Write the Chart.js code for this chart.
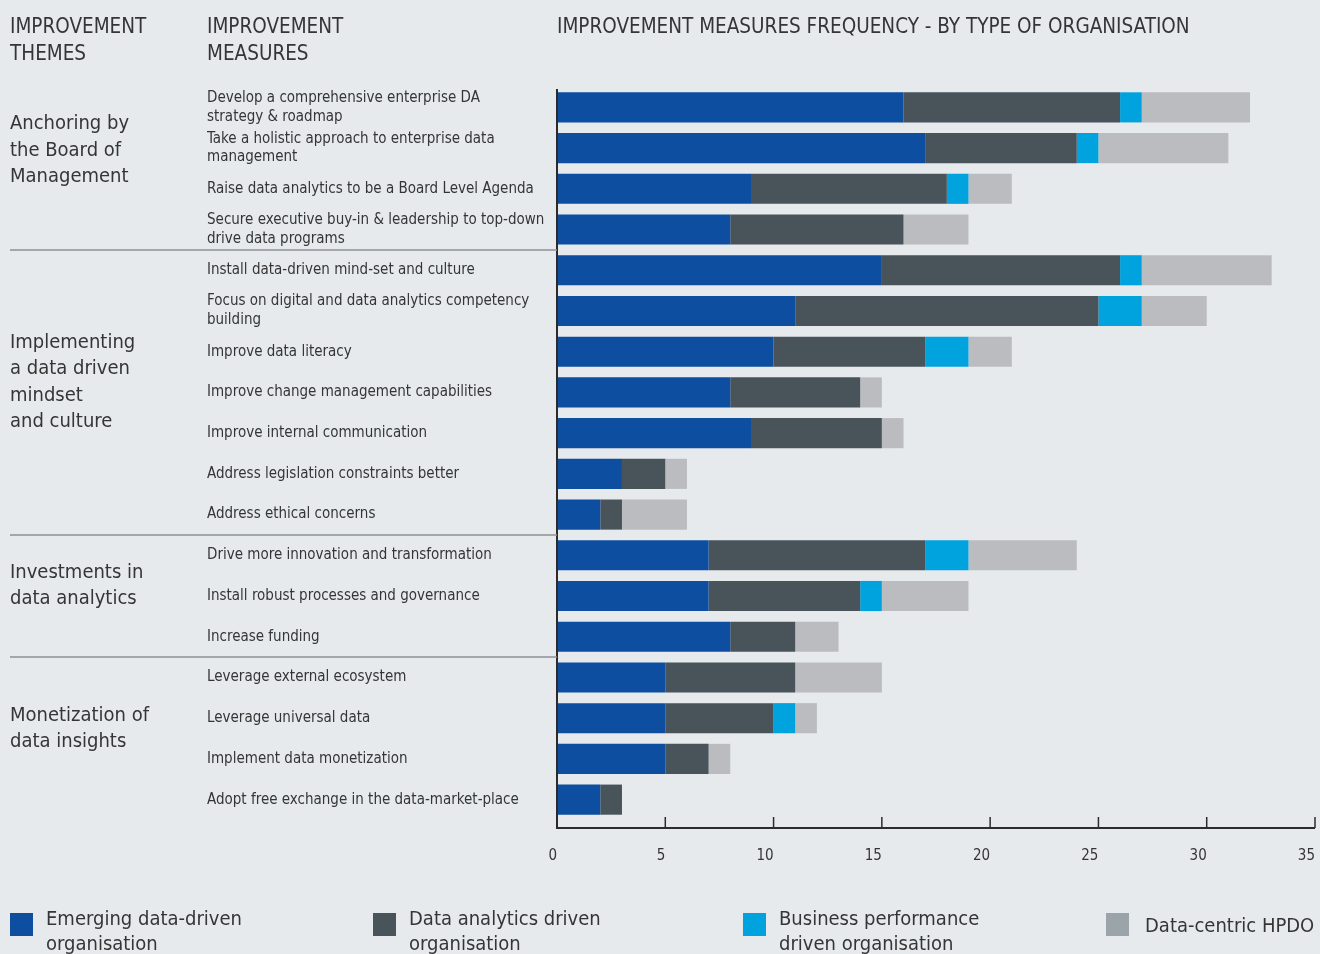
<!DOCTYPE html>
<html>
<head>
<meta charset="utf-8">
<script src="https://cdn.jsdelivr.net/npm/chart.js@4/dist/chart.umd.min.js"></script>
<style>
  html, body { margin: 0; padding: 0; background: #e6eaed; overflow: hidden; }
  #wrap { position: relative; width: 1320px; height: 954px; }
</style>
</head>
<body>
<div id="wrap"><canvas id="measuresChart"></canvas></div>
<script>
// Improvement measures, one bar per measure (multi-line labels as arrays)
const measures = [
    ['Develop a comprehensive enterprise DA', 'strategy & roadmap'],
    ['Take a holistic approach to enterprise data', 'management'],
    'Raise data analytics to be a Board Level Agenda',
    ['Secure executive buy-in & leadership to top-down', 'drive data programs'],
    'Install data-driven mind-set and culture',
    ['Focus on digital and data analytics competency', 'building'],
    'Improve data literacy',
    'Improve change management capabilities',
    'Improve internal communication',
    'Address legislation constraints better',
    'Address ethical concerns',
    'Drive more innovation and transformation',
    'Install robust processes and governance',
    'Increase funding',
    'Leverage external ecosystem',
    'Leverage universal data',
    'Implement data monetization',
    'Adopt free exchange in the data-market-place'
];

// Counts per type of organisation
const emerging    = [16, 17, 9, 8, 15, 11, 10, 8, 9, 3, 2, 7, 7, 8, 5, 5, 5, 2];
const analytics   = [10, 7, 9, 8, 11, 14, 7, 6, 6, 2, 1, 10, 7, 3, 6, 5, 2, 1];
const performance = [1, 1, 1, 0, 1, 2, 2, 0, 0, 0, 0, 2, 1, 0, 0, 1, 0, 0];
const hpdo        = [5, 6, 2, 3, 6, 3, 2, 1, 1, 1, 3, 5, 4, 2, 4, 1, 1, 0];

const seriesNames = [
    ['Emerging data-driven', 'organisation'],
    ['Data analytics driven', 'organisation'],
    ['Business performance', 'driven organisation'],
    ['Data-centric HPDO']
];

// Themes grouping the measures (first / last row index)
const themeLabels = [
    ['Anchoring by', 'the Board of', 'Management'],
    ['Implementing', 'a data driven', 'mindset', 'and culture'],
    ['Investments in', 'data analytics'],
    ['Monetization of', 'data insights']
];
const themeRows = [[0, 3], [4, 10], [11, 13], [14, 17]];

const xTicks = [0, 5, 10, 15, 20, 25, 30, 35];

const FONT = "'DejaVu Sans Condensed', 'Roboto', sans-serif";
const TEXT = '#353535';
const colors = ['#0d4ea1', '#49535a', '#00a3dd', '#bbbcc0'];
const legendColors = ['#0d4ea1', '#49535a', '#00a3dd', '#9ba4a9'];

Chart.defaults.font.family = FONT;
Chart.defaults.color = TEXT;

// Headers, axis lines, theme column, separators and the legend
const decor = {
    id: 'decor',
    afterDraw(chart) {
        const ctx = chart.ctx;
        const area = chart.chartArea;
        const xs = chart.scales.x;
        const ys = chart.scales.y;
        ctx.save();
        ctx.fillStyle = TEXT;
        ctx.textBaseline = 'alphabetic';
        ctx.textAlign = 'left';

        // column headers + title
        ctx.font = '20.5px ' + FONT;
        ctx.fillText('IMPROVEMENT', 10, 33);
        ctx.fillText('THEMES', 10, 60);
        ctx.fillText('IMPROVEMENT', 207, 33);
        ctx.fillText('MEASURES', 207, 60);
        ctx.fillText('IMPROVEMENT MEASURES FREQUENCY - BY TYPE OF ORGANISATION', 557, 33);

        // axis lines with inward ticks
        const axisY = area.bottom + 8;
        ctx.strokeStyle = '#2b2b2b';
        ctx.lineWidth = 2;
        ctx.beginPath();
        ctx.moveTo(area.left, area.top + 2);
        ctx.lineTo(area.left, axisY);
        ctx.lineTo(area.right, axisY);
        ctx.stroke();
        ctx.lineWidth = 1.5;
        xTicks.forEach(v => {
            const px = xs.getPixelForValue(v);
            ctx.beginPath();
            ctx.moveTo(px, axisY);
            ctx.lineTo(px, axisY - 11);
            ctx.stroke();
        });

        // group separators and theme labels
        ctx.strokeStyle = '#8d9194';
        ctx.lineWidth = 1.5;
        themeRows.forEach((rows, i) => {
            const top = ys.getPixelForValue(rows[0]);
            const bottom = ys.getPixelForValue(rows[1]);
            if (i < themeRows.length - 1) {
                const sep = (bottom + ys.getPixelForValue(rows[1] + 1)) / 2;
                ctx.beginPath();
                ctx.moveTo(10, sep);
                ctx.lineTo(area.left, sep);
                ctx.stroke();
            }
            const lines = themeLabels[i];
            const lh = 26.5;
            const mid = (top + bottom) / 2 - (i === 0 ? 18 : 10);
            ctx.font = '20px ' + FONT;
            ctx.textBaseline = 'middle';
            lines.forEach((t, k) => {
                ctx.fillText(t, 10, mid + (k - (lines.length - 1) / 2) * lh);
            });
        });

        // legend
        const legendX = [10, 373, 743, 1106];
        ctx.font = '20px ' + FONT;
        ctx.textBaseline = 'alphabetic';
        seriesNames.forEach((name, i) => {
            ctx.fillStyle = legendColors[i];
            ctx.fillRect(legendX[i], 913, 23, 23);
            ctx.fillStyle = TEXT;
            if (name.length === 1) {
                ctx.fillText(name[0], legendX[i] + 39, 932);
            } else {
                ctx.fillText(name[0], legendX[i] + 36, 925);
                ctx.fillText(name[1], legendX[i] + 36, 950);
            }
        });
        ctx.restore();
    }
};

const datasets = [emerging, analytics, performance, hpdo].map((values, i) => ({
    label: seriesNames[i].join(' '),
    data: values,
    backgroundColor: colors[i],
    borderWidth: 0,
    barPercentage: 0.74,
    categoryPercentage: 1
}));

new Chart(document.getElementById('measuresChart'), {
    type: 'bar',
    data: { labels: measures, datasets: datasets },
    options: {
        indexAxis: 'y',
        responsive: true,
        maintainAspectRatio: false,
        animation: false,
        layout: { padding: { left: 207, top: 87, right: 5, bottom: 84 } },
        plugins: {
            legend: { display: false },
            tooltip: { enabled: false }
        },
        scales: {
            x: {
                stacked: true,
                min: 0,
                max: 35,
                border: { display: false },
                grid: { display: false, drawTicks: false },
                afterFit: s => {
                    s.height = 50;
                    s.paddingLeft = 0;
                    s.paddingRight = 0;
                },
                ticks: {
                    stepSize: 5,
                    align: 'end',
                    padding: 27,
                    color: TEXT,
                    font: { size: 15 }
                }
            },
            y: {
                stacked: true,
                border: { display: false },
                grid: { display: false, drawTicks: false },
                afterFit: s => { s.width = 350; },
                ticks: {
                    autoSkip: false,
                    crossAlign: 'far',
                    color: TEXT,
                    font: { size: 15, lineHeight: 1.25 }
                }
            }
        }
    },
    plugins: [decor]
});
</script>
</body>
</html>
